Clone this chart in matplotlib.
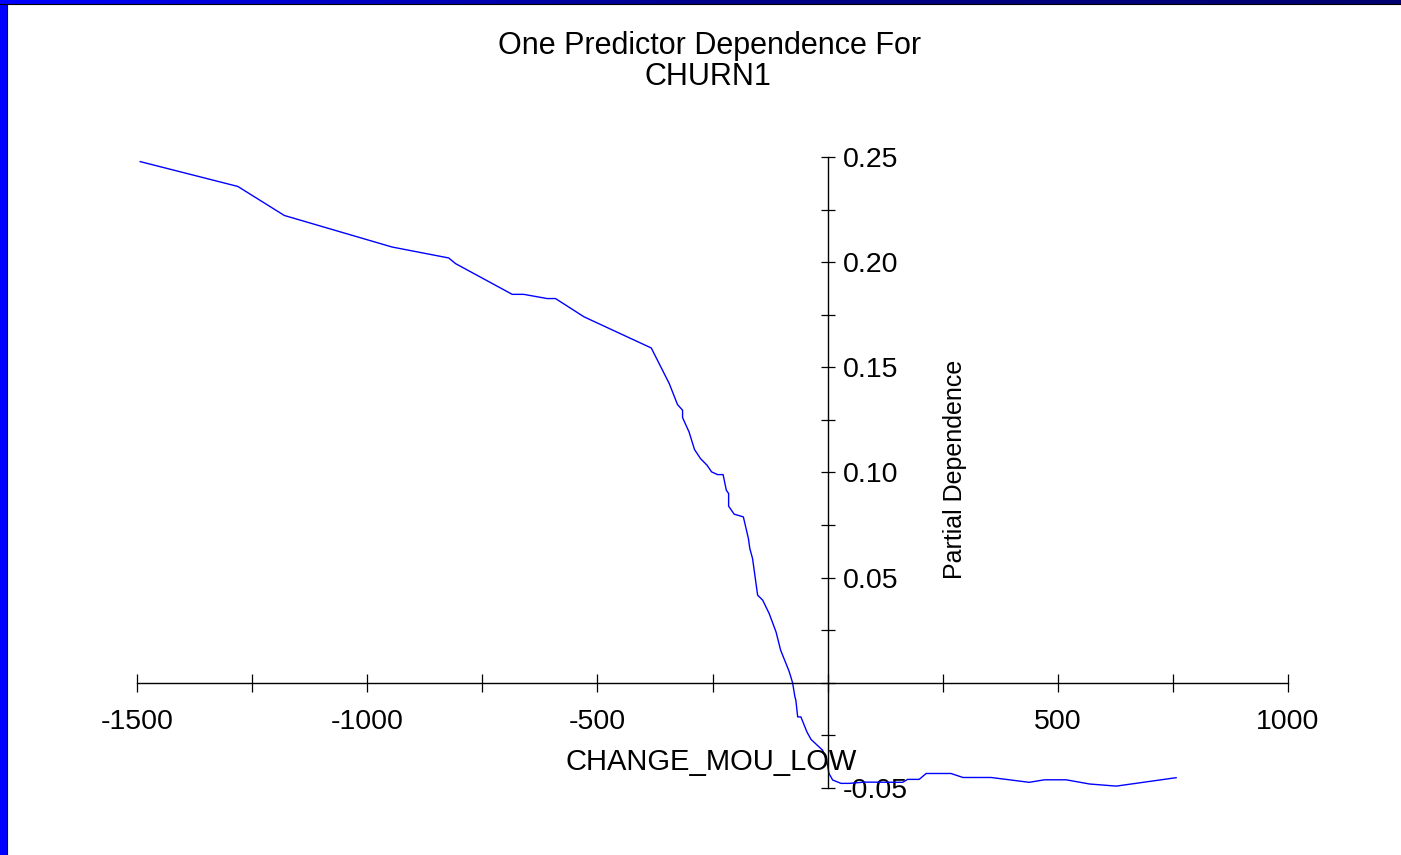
import matplotlib
matplotlib.use("Agg")
import matplotlib.pyplot as plt
import numpy as np

plt.rcParams['font.family'] = ['Liberation Sans', 'DejaVu Sans']
plt.rcParams['axes.unicode_minus'] = False

# partial dependence curve
change_mou_low = [
    -1493, -1281, -1180, -946, -823, -808, -685, -660, -609, -591, -529,
    -383, -344, -326, -315, -315, -301, -289, -276, -262, -252, -239, -227,
    -220, -215, -215, -203, -183, -172, -169, -163, -152, -141, -127, -112,
    -102, -84, -80, -76, -71, -69, -65, -58, -45, -36, -11, -2, 3, 11, 29,
    47, 80, 163, 174, 199, 214, 268, 294, 355, 438, 471, 518, 569, 627, 757,
]
partial_dep = [
    0.2478, 0.2360, 0.2222, 0.2072, 0.2020, 0.1993, 0.1847, 0.1847, 0.1827,
    0.1827, 0.1740, 0.1592, 0.1423, 0.1323, 0.1296, 0.1261, 0.1193, 0.1109,
    0.1066, 0.1035, 0.1003, 0.0990, 0.0990, 0.0916, 0.0900, 0.0840, 0.0802,
    0.0789, 0.0686, 0.0639, 0.0591, 0.0417, 0.0393, 0.0330, 0.0242, 0.0155,
    0.0057, 0.0029, 0.0, -0.0067, -0.0082, -0.0162, -0.0162, -0.0233,
    -0.0269, -0.0320, -0.0367, -0.0431, -0.0462, -0.0478, -0.0478, -0.0472,
    -0.0473, -0.0459, -0.0459, -0.0431, -0.0431, -0.0450, -0.0450, -0.0473,
    -0.0461, -0.0461, -0.0481, -0.0491, -0.0451,
]

x_ticks = [-1500, -1000, -500, 0, 500, 1000]
x_labels = ['-1500', '-1000', '-500', '', '500', '1000']
y_ticks = [-0.05, 0.0, 0.05, 0.10, 0.15, 0.20, 0.25]
y_labels = ['-0.05', '', '0.05', '0.10', '0.15', '0.20', '0.25']

W, H = 1401, 855
fig = plt.figure(figsize=(W / 100, H / 100), dpi=100)
fig.patch.set_facecolor('white')

# slide border: blue strip left, gradient strip on top
band = fig.add_axes([0, 1 - 4 / H, 1, 4 / H])
grad = np.linspace(0, 1, 256)[None, :]
cmap = matplotlib.colors.LinearSegmentedColormap.from_list('b', ['#0000ff', '#00008a', '#000070'])
band.imshow(grad, aspect='auto', cmap=cmap, extent=[0, 1, 0, 1])
band.axis('off')
fig.add_artist(plt.Line2D([0, 1], [1 - 4.5 / H, 1 - 4.5 / H], color='black', lw=0.8, transform=fig.transFigure))
left = fig.add_axes([0, 0, 7 / W, 1])
left.set_facecolor('#0000ff')
left.set_xticks([])
left.set_yticks([])
for s in left.spines.values():
    s.set_visible(False)
fig.add_artist(plt.Line2D([7.5 / W, 7.5 / W], [0, 1 - 4 / H], color='black', lw=0.8, transform=fig.transFigure))

ax = fig.add_axes([137 / W, 1 - 788 / H, (1288 - 137) / W, (788 - 157) / H])
ax.patch.set_alpha(0)
ax.plot(change_mou_low, partial_dep, color='#0000ff', lw=1.0)

ax.set_xlim(-1500, 1000)
ax.set_ylim(-0.05, 0.25)

ax.spines['top'].set_visible(False)
ax.spines['left'].set_visible(False)
ax.spines['bottom'].set_position(('data', 0))
ax.spines['right'].set_position(('data', 0))
ax.spines['bottom'].set_linewidth(1.0)
ax.spines['right'].set_linewidth(1.0)

ax.yaxis.set_ticks_position('right')
ax.set_xticks(x_ticks, x_labels)
ax.set_xticks([-1250, -750, -250, 250, 750], minor=True)
ax.set_yticks(y_ticks, y_labels)
ax.set_yticks([-0.025, 0.025, 0.075, 0.125, 0.175, 0.225], minor=True)
ax.tick_params(axis='x', which='both', direction='inout', length=13, width=0.9,
               labelsize=20.5, pad=12)
ax.tick_params(axis='y', which='both', direction='inout', length=10, width=0.9,
               labelsize=20.5, pad=6)

fig.text(710 / W, 1 - 46 / H, 'One Predictor Dependence For', ha='center', va='center', fontsize=22)
fig.text(708 / W, 1 - 77 / H, 'CHURN1', ha='center', va='center', fontsize=22)
fig.text(711 / W, 1 - 762 / H, 'CHANGE_MOU_LOW', ha='center', va='center', fontsize=21)
fig.text(955 / W, 1 - 469 / H, 'Partial Dependence', ha='center', va='center',
         rotation=90, fontsize=18)

fig.savefig('out.png', dpi=100)
